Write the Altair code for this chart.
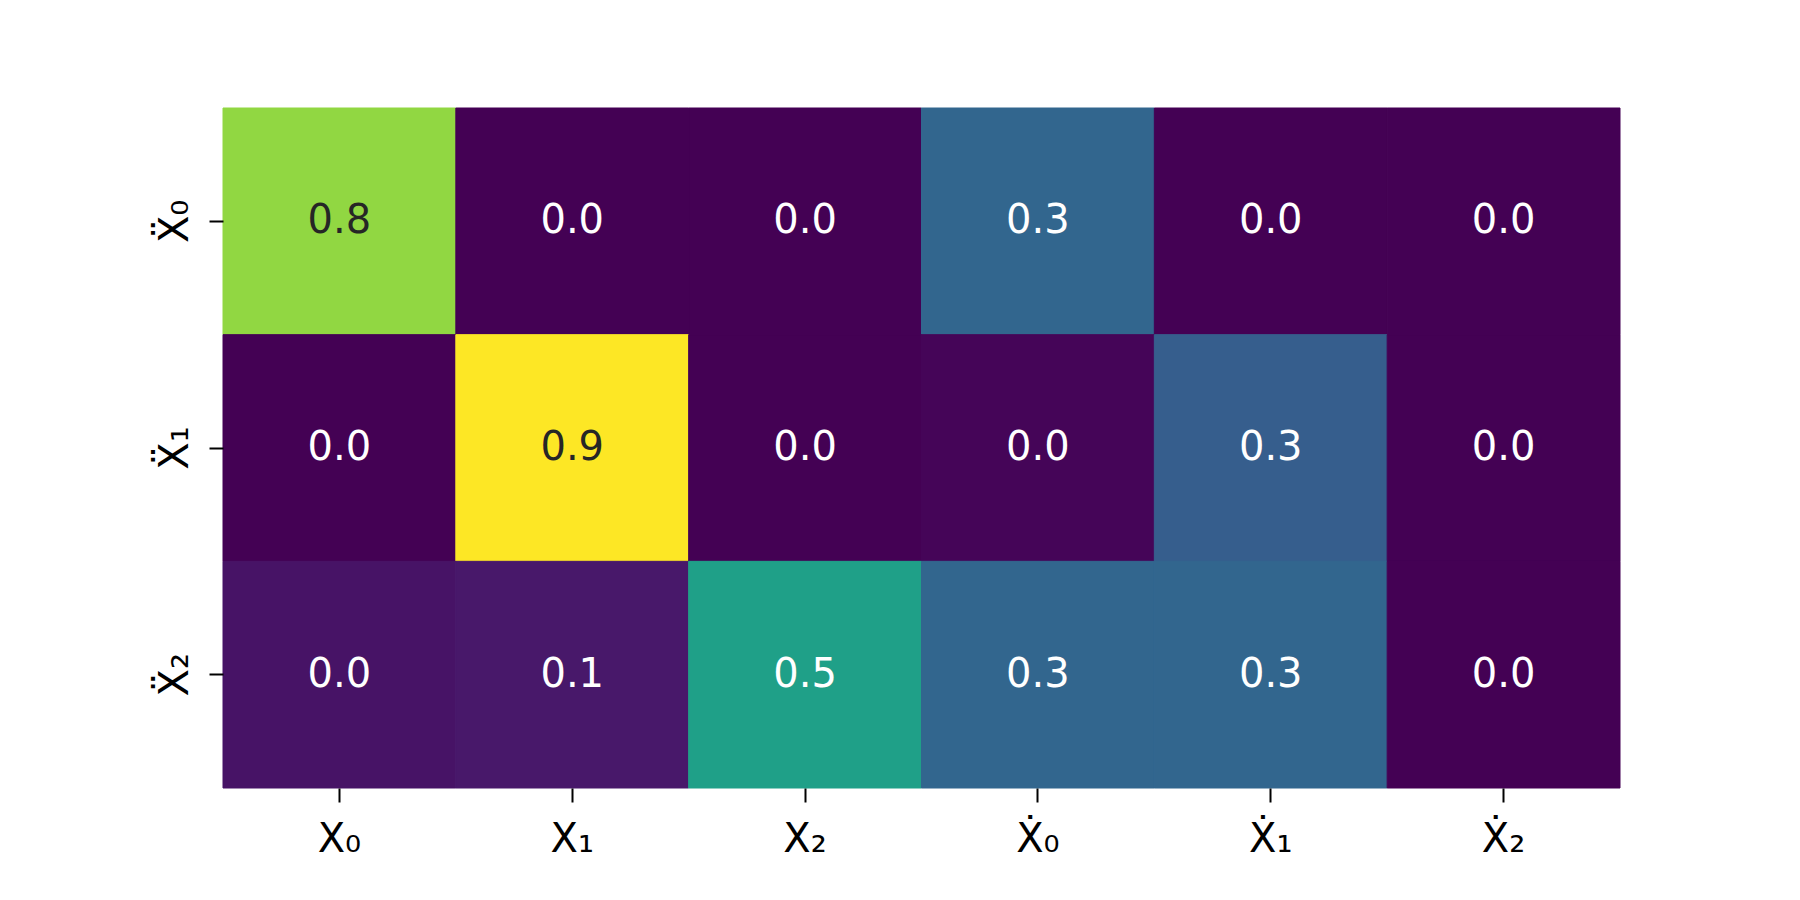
import altair as alt
import pandas as pd

x_labels = ["X₀", "X₁", "X₂", "Ẋ₀", "Ẋ₁", "Ẋ₂"]
y_labels = ["Ẍ₀", "Ẍ₁", "Ẍ₂"]
values = [
    [0.77, 0.00, 0.00, 0.30, 0.00, 0.00],
    [0.00, 0.92, 0.00, 0.01, 0.27, 0.00],
    [0.044, 0.056, 0.52, 0.30, 0.30, 0.00],
]

rows = []
for i, yl in enumerate(y_labels):
    for j, xl in enumerate(x_labels):
        rows.append({"x": xl, "y": yl, "v": values[i][j]})
df = pd.DataFrame(rows)

vmin = min(min(r) for r in values)
vmax = max(max(r) for r in values)
cscale = alt.Scale(scheme="viridis", domain=[vmin, vmax])

base = alt.Chart(df).encode(
    x=alt.X("x:N", sort=x_labels, title=None,
            axis=alt.Axis(labelAngle=0, labelFont="DejaVu Sans", labelFontSize=40,
                          labelColor="black", tickColor="black", tickSize=14, tickWidth=2,
                          labelPadding=17, domain=False, grid=False)),
    y=alt.Y("y:N", sort=y_labels, title=None,
            axis=alt.Axis(labelAngle=270, labelFont="DejaVu Sans", labelFontSize=40,
                          labelColor="black", tickColor="black", tickSize=14, tickWidth=2,
                          labelPadding=14, domain=False, grid=False,
                          labelAlign="center", labelBaseline="bottom")),
)

rect = base.mark_rect(strokeWidth=1).encode(
    color=alt.Color("v:Q", scale=cscale, legend=None),
    stroke=alt.Stroke("v:Q", scale=cscale, legend=None),
)

text = base.mark_text(font="DejaVu Sans", fontSize=40).encode(
    text=alt.Text("v:Q", format=".1f"),
    color=alt.condition("datum.v > 0.7", alt.value("#262626"), alt.value("white")),
)

chart = (rect + text).properties(
    width=1397, height=680,
    autosize=alt.AutoSizeParams(type="none"),
    padding={"left": 215, "top": 100, "right": 170, "bottom": 100},
).configure_view(stroke=None).configure_scale(bandPaddingInner=0, bandPaddingOuter=0)

chart.save("out.html", embed_options={"renderer": "svg", "actions": False})
